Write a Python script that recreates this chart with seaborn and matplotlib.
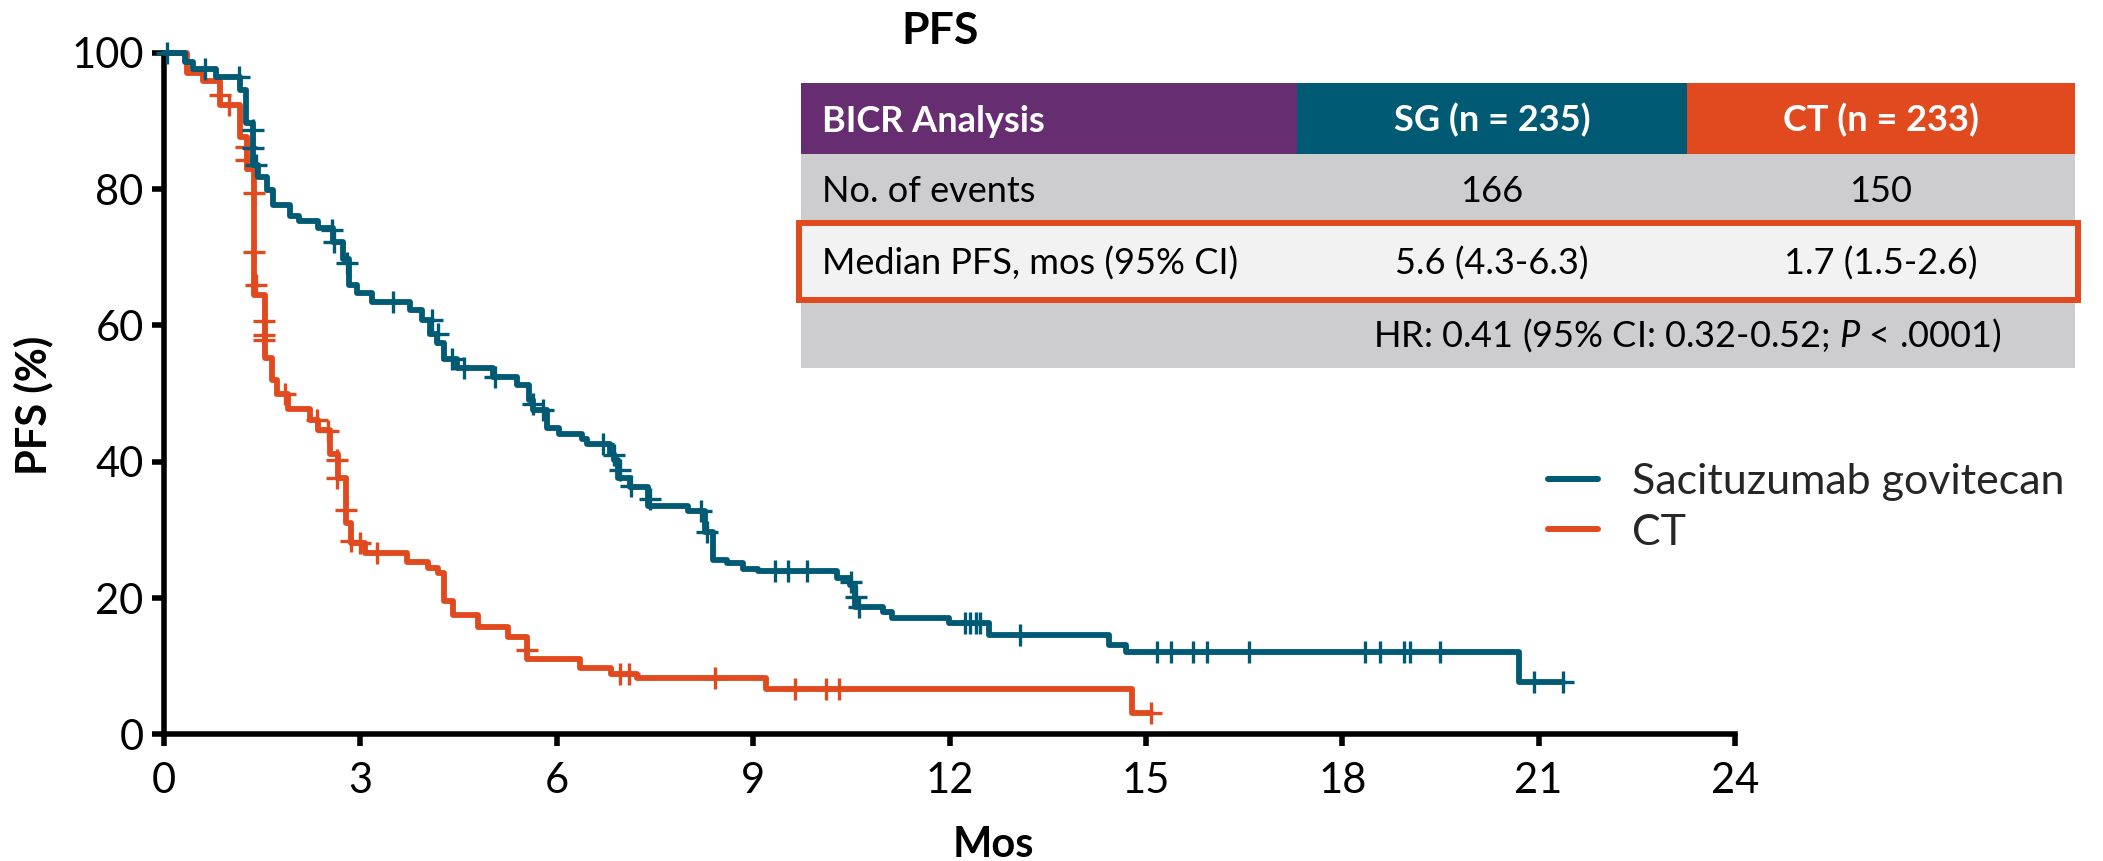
import numpy as np
import pandas as pd
import matplotlib
matplotlib.use("Agg")
import matplotlib.pyplot as plt
import seaborn as sns
from matplotlib.patches import Rectangle
from matplotlib.lines import Line2D

# ---------------- data ----------------
sg_step_t = [0, 0.32, 0.44, 0.80, 1.16, 1.26, 1.36, 1.44, 1.57, 1.67, 1.93, 2.06, 2.36, 2.58,
             2.74, 2.82, 2.95, 3.18, 3.76, 3.94, 4.07, 4.17, 4.28, 4.47, 5.03, 5.39, 5.57,
             5.64, 5.85, 6.03, 6.38, 6.46, 6.82, 6.87, 6.93, 7.12, 7.40, 8.01, 8.27, 8.38,
             8.60, 8.85, 9.08, 10.28, 10.48, 10.56, 10.99, 11.12, 11.99, 12.60, 14.43, 14.70,
             20.70, 21.37]
sg_step_s = [100, 98.7, 97.6, 96.4, 94.5, 89.7, 83.5, 81.8, 79.9, 77.6, 76.1, 75.3, 74.3, 72.3,
             69.8, 66.0, 64.7, 63.5, 62.3, 60.8, 58.8, 57.4, 55.0, 53.7, 52.5, 51.2, 49.1,
             47.6, 44.9, 44.0, 43.3, 42.6, 41.2, 40.2, 37.6, 36.3, 33.5, 32.8, 29.7, 25.6,
             25.1, 24.2, 23.9, 22.9, 21.9, 18.7, 18.0, 17.1, 16.4, 14.6, 13.1, 12.1,
             7.7, 7.7]
sg_cens_t = [0.04, 0.63, 1.14, 1.36, 1.36, 1.40, 2.57, 2.60, 2.80, 3.50, 4.09, 4.19, 4.40, 4.58,
             5.06, 5.64, 5.79, 6.71, 6.87, 6.97, 7.14, 7.42, 8.21, 8.29, 9.34, 9.54, 9.82,
             10.50, 10.57, 10.62, 12.24, 12.32, 12.40, 12.47, 13.08, 15.17, 15.38, 15.72,
             15.94, 16.57, 18.35, 18.57, 18.95, 19.04, 19.49, 20.93, 21.37]
sg_cens_s = [100, 97.6, 96.4, 88.6, 86.1, 83.5, 74.0, 72.3, 69.2, 63.5, 60.8, 58.8, 55.0, 53.7,
             52.5, 48.5, 47.6, 42.6, 41.0, 38.8, 36.5, 34.5, 32.8, 29.7, 23.9, 23.9, 23.9,
             22.4, 20.2, 18.7, 16.4, 16.4, 16.4, 16.4, 14.6, 12.1, 12.1, 12.1,
             12.1, 12.1, 12.1, 12.1, 12.1, 12.1, 12.1, 7.7, 7.7]

ct_step_t = [0, 0.35, 0.60, 0.86, 1.16, 1.27, 1.38, 1.54, 1.65, 1.72, 1.90, 2.23, 2.36, 2.54,
             2.66, 2.78, 2.86, 3.07, 3.71, 4.04, 4.19, 4.27, 4.42, 4.80, 5.26, 5.54, 6.36,
             6.83, 7.22, 9.20, 14.79, 15.08]
ct_step_s = [100, 97.0, 95.8, 92.3, 87.6, 83.0, 64.5, 55.2, 52.0, 50.0, 47.7, 46.1, 44.7, 41.2,
             37.6, 31.0, 28.0, 26.6, 25.3, 24.4, 23.6, 19.5, 17.5, 15.7, 14.3, 11.0, 9.8,
             8.9, 8.2, 6.6, 3.1, 3.1]
ct_cens_t = [0.85, 1.00, 1.26, 1.26, 1.38, 1.38, 1.40, 1.53, 1.53, 1.53, 1.85, 2.33, 2.50, 2.65,
             2.65, 2.78, 2.85, 3.00, 3.26, 5.54, 6.96, 7.10, 8.42, 9.64, 10.11, 10.31, 15.08]
ct_cens_s = [93.8, 92.3, 86.2, 84.2, 79.4, 70.7, 65.9, 60.6, 58.6, 57.9, 50.0, 46.1, 44.5, 40.3,
             37.6, 32.9, 28.3, 28.0, 26.6, 12.3, 8.9, 8.9, 8.2, 6.6, 6.6, 6.6, 3.1]

x_ticks = [0, 3, 6, 9, 12, 15, 18, 21, 24]
y_ticks = [0, 20, 40, 60, 80, 100]
legend_labels = ["Sacituzumab govitecan", "CT"]

table_header = ["BICR Analysis", "SG (n = 235)", "CT (n = 233)"]
table_rows = [["No. of events", "166", "150"],
              ["Median PFS, mos (95% CI)", "5.6 (4.3-6.3)", "1.7 (1.5-2.6)"]]
hr_text = "HR: 0.41 (95% CI: 0.32-0.52; $\\mathit{P}$ < .0001)"

# ---------------- style ----------------
SG = "#005A73"
CT = "#E04A1E"
PURPLE = "#662D70"
GRAY = "#CDCDD0"
LIGHT = "#F2F2F2"

sns.set_theme(style="ticks")
plt.rcParams["font.family"] = ["Lato", "DejaVu Sans"]
plt.rcParams["mathtext.fontset"] = "custom"
plt.rcParams["mathtext.rm"] = "Lato"
plt.rcParams["mathtext.it"] = "Lato:italic"

W, H = 2103, 861
fig = plt.figure(figsize=(W / 100, H / 100), dpi=100)
fig.patch.set_facecolor("white")


def fx(px):
    return px / W


def fy(py):
    return 1 - py / H


ax = fig.add_axes([fx(164), fy(734.3), fx(1735) - fx(164), fy(52.8) - fy(734.3)])
ax.set_facecolor("white")

ct_df = pd.DataFrame({"t": ct_step_t, "s": ct_step_s})
sg_df = pd.DataFrame({"t": sg_step_t, "s": sg_step_s})

sns.lineplot(data=ct_df, x="t", y="s", drawstyle="steps-post", color=CT, lw=4.2,
             estimator=None, sort=False, ax=ax, clip_on=False, zorder=2)
sns.scatterplot(x=ct_cens_t, y=ct_cens_s, marker="+", s=270, color=CT, linewidth=2.4,
                ax=ax, clip_on=False, zorder=2.5, legend=False)
sns.lineplot(data=sg_df, x="t", y="s", drawstyle="steps-post", color=SG, lw=4.2,
             estimator=None, sort=False, ax=ax, clip_on=False, zorder=3)
sns.scatterplot(x=sg_cens_t, y=sg_cens_s, marker="+", s=270, color=SG, linewidth=2.4,
                ax=ax, clip_on=False, zorder=3.5, legend=False)

ax.set_xlim(0, 24)
ax.set_ylim(0, 100)
ax.set_xticks(x_ticks)
ax.set_yticks(y_ticks)
ax.set_xticklabels([str(v) for v in x_ticks])
ax.set_yticklabels([str(v) for v in y_ticks])
sns.despine(ax=ax)
for sp in ["left", "bottom"]:
    ax.spines[sp].set_linewidth(4)
    ax.spines[sp].set_color("black")
ax.tick_params(axis="both", length=8.6, width=4, color="black", labelcolor="black",
               labelsize=30)
ax.tick_params(axis="x", pad=11)
ax.tick_params(axis="y", pad=6)

ax.set_xlabel("Mos", fontsize=30, fontweight="bold", color="black")
ax.xaxis.set_label_coords(fx(993), fy(857), transform=fig.transFigure)
ax.xaxis.label.set_va("baseline")
ax.set_ylabel("PFS (%)", fontsize=30, fontweight="bold", color="black")
ax.yaxis.set_label_coords(fx(33), fy(405), transform=fig.transFigure)
ax.yaxis.label.set_va("center")

# legend
handles = [Line2D([], [], color=SG, lw=4.3), Line2D([], [], color=CT, lw=4.3)]
fig.legend(handles, legend_labels, loc="center left",
           bbox_to_anchor=(fx(1548), fy(507.5)), bbox_transform=fig.transFigure,
           frameon=False, fontsize=31, handlelength=1.15, handletextpad=0.8,
           labelspacing=0.28, borderpad=0, borderaxespad=0)

# title
fig.text(fx(940), fy(44), "PFS", ha="center", va="baseline", fontsize=32,
         fontweight="bold", color="black")

# table
col_x = [801, 1297, 1687, 2075]
row_y = [83, 154, 223, 300, 368]
head_colors = [PURPLE, SG, CT]


def rect(x0, y0, x1, y1, **kw):
    r = Rectangle((fx(x0), fy(y1)), fx(x1) - fx(x0), fy(y0) - fy(y1),
                  transform=fig.transFigure, **kw)
    fig.add_artist(r)


for i in range(3):
    rect(col_x[i], row_y[0], col_x[i + 1], row_y[1], facecolor=head_colors[i],
         edgecolor="none")
rect(col_x[0], row_y[1], col_x[3], row_y[2], facecolor=GRAY, edgecolor="none")
rect(col_x[0], row_y[3], col_x[3], row_y[4], facecolor=GRAY, edgecolor="none")
rect(col_x[0], row_y[2], col_x[3], row_y[3], facecolor=LIGHT, edgecolor="none")
rect(799, row_y[2], 2078, row_y[3], facecolor="none", edgecolor=CT, lw=4.3, zorder=5)

text_x = [822, (col_x[1] + col_x[2]) / 2, (col_x[2] + col_x[3]) / 2]
text_ha = ["left", "center", "center"]


def row_base(i):
    return (row_y[i] + row_y[i + 1]) / 2 + 13


for j, lab in enumerate(table_header):
    fig.text(fx(text_x[j]), fy(row_base(0)), lab, ha=text_ha[j], va="baseline",
             fontsize=26, fontweight="bold", color="white")
for i, row in enumerate(table_rows):
    for j, lab in enumerate(row):
        fig.text(fx(text_x[j]), fy(row_base(i + 1)), lab, ha=text_ha[j], va="baseline",
                 fontsize=26, color="black")
fig.text(fx(col_x[2]), fy(row_base(3)), hr_text, ha="center", va="baseline",
         fontsize=26, color="black")

# caption cropped at the bottom edge, as in the reference
fig.text(fx(8), fy(889), "Pts at risk", ha="left", va="baseline", fontsize=26,
         fontweight="bold", color="black")

fig.savefig("out.png", dpi=100, facecolor="white")
